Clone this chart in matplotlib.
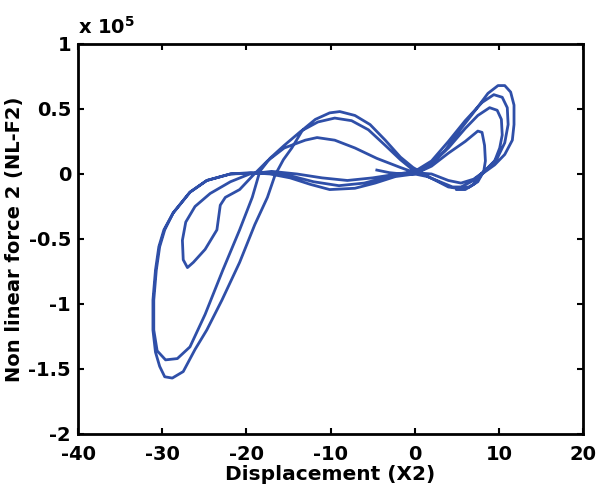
import matplotlib
matplotlib.use("Agg")
import matplotlib.pyplot as plt
from matplotlib.ticker import FuncFormatter

# Траектория: перемещение X2 и нелинейная сила (в единицах 1e5)
x2 = [-4.5, -3.0, -1.5, 0.0, 2.0, 4.0, 6.0, 7.5, 8.0, 8.3, 8.4, 8.2, 7.5, 6.5, 5.0, 4.0, 2.5, 1.0, 0.0,
      -2.0, -5.0, -8.0, -11.0, -14.0, -17.0, -19.6, -21.9, -24.3, -26.1, -27.2, -27.6, -27.5, -27.0,
      -26.3, -24.9, -23.5, -23.1, -22.5, -20.8, -19.2, -17.5, -15.5,
      -13.0, -11.6, -9.5, -7.1, -4.5, -1.7, 0.0,
      2.0, 4.0, 6.0, 7.5, 8.9, 9.8, 10.3, 10.4, 10.1, 9.5, 8.5, 7.0, 5.5, 4.0, 2.0, 0.0,
      -3.0, -6.0, -9.0, -12.0, -15.0, -17.5,
      -21.9, -24.7, -26.7, -28.7, -29.7, -30.3, -30.7, -31.0, -31.0, -30.6, -29.6, -28.2, -26.7,
      -24.9, -22.8, -20.8, -19.3, -18.4, -17.2, -15.5, -13.5, -11.5, -9.5, -7.5, -5.5, -3.5, -1.7, 0.0,
      2.0, 4.0, 6.0, 8.0, 9.4, 10.4, 11.0, 11.1, 10.7, 9.8, 8.4, 7.0, 5.5, 4.5, 3.0, 1.5, 0.0,
      -2.3, -4.7, -7.1, -10.1, -12.4, -14.8, -17.2,
      -19.5, -21.9, -24.7, -26.7, -28.7, -29.8, -30.4, -30.8, -31.1, -31.1, -30.8, -30.3, -29.7,
      -28.8, -27.5, -26.1, -24.7, -22.9, -20.8, -19.0, -17.5, -16.6, -15.6, -14.6, -13.3, -11.8,
      -10.1, -8.9, -7.1, -5.3, -3.5, -1.7, -0.2, 0.6,
      1.8, 3.6, 5.4, 7.2, 8.7, 9.9, 10.7, 11.4, 11.8, 11.8, 11.6, 10.7, 9.5, 8.0, 7.0, 6.0, 5.0]
nl_f2 = [0.03, 0.01, 0.0, 0.0, 0.06, 0.16, 0.25, 0.33, 0.32, 0.22, 0.10, 0.02, -0.06, -0.10, -0.11, -0.10, -0.05, 0.0, 0.02,
         0.0, -0.03, -0.05, -0.03, 0.0, 0.02, 0.0, -0.06, -0.15, -0.25, -0.37, -0.51, -0.66, -0.72,
         -0.68, -0.58, -0.43, -0.24, -0.18, -0.12, -0.01, 0.10, 0.20,
         0.26, 0.28, 0.26, 0.20, 0.12, 0.05, 0.01,
         0.08, 0.20, 0.35, 0.45, 0.51, 0.49, 0.42, 0.30, 0.20, 0.10, 0.03, -0.04, -0.07, -0.05, 0.0, 0.01,
         -0.02, -0.07, -0.09, -0.06, -0.01, 0.01,
         0.0, -0.05, -0.14, -0.30, -0.43, -0.56, -0.74, -0.97, -1.20, -1.36, -1.43, -1.42, -1.33,
         -1.08, -0.74, -0.43, -0.18, 0.02, 0.12, 0.22, 0.33, 0.40, 0.43, 0.41, 0.34, 0.22, 0.11, 0.02,
         0.10, 0.25, 0.41, 0.55, 0.61, 0.59, 0.51, 0.38, 0.24, 0.12, 0.03, -0.05, -0.10, -0.10, -0.06, -0.02, 0.0,
         -0.02, -0.07, -0.11, -0.12, -0.08, -0.03, 0.0,
         0.01, 0.0, -0.05, -0.14, -0.30, -0.43, -0.56, -0.74, -0.97, -1.20, -1.37, -1.48, -1.56,
         -1.57, -1.52, -1.35, -1.20, -0.97, -0.68, -0.39, -0.18, -0.01, 0.11, 0.20, 0.34, 0.42,
         0.47, 0.48, 0.45, 0.38, 0.26, 0.13, 0.05, 0.02,
         0.07, 0.18, 0.34, 0.49, 0.62, 0.68, 0.68, 0.63, 0.53, 0.38, 0.26, 0.15, 0.07, 0.0, -0.08, -0.12, -0.12]

xticks = [-40, -30, -20, -10, 0, 10, 20]
yticks = [-2, -1.5, -1, -0.5, 0, 0.5, 1]

plt.rcParams['font.family'] = ['DejaVu Sans']
plt.rcParams['font.weight'] = 'bold'
plt.rcParams['mathtext.fontset'] = 'custom'
plt.rcParams['mathtext.rm'] = 'DejaVu Sans:bold'

fig = plt.figure(figsize=(5.97, 4.88), dpi=100)
ax = fig.add_axes([0.1307, 0.1107, 0.8459, 0.7992])

ax.plot(x2, nl_f2, color='#2f4fa8', linewidth=2.0)

ax.set_xlim(-40, 20)
ax.set_ylim(-2, 1)
ax.set_xticks(xticks)
ax.set_yticks(yticks)
fmt = FuncFormatter(lambda v, p: '{:g}'.format(v))
ax.xaxis.set_major_formatter(fmt)
ax.yaxis.set_major_formatter(fmt)
ax.tick_params(direction='in', length=4, width=1.5, top=True, right=True,
               labelsize=14)
ax.tick_params(axis='x', pad=8)
ax.tick_params(axis='y', pad=5)
for t in ax.get_xticklabels() + ax.get_yticklabels():
    t.set_fontweight('bold')
for s in ax.spines.values():
    s.set_linewidth(2.0)

ax.set_xlabel('Displacement (X2)', fontsize=14.5, fontweight='bold', labelpad=1)
ax.set_ylabel('Non linear force 2 (NL-F2)', fontsize=14, fontweight='bold', labelpad=3)
ax.text(0.0, 1.015, r'x 10$^{5}$', transform=ax.transAxes, fontsize=14,
        fontweight='bold', ha='left', va='bottom')

fig.savefig('out.png', dpi=100)
